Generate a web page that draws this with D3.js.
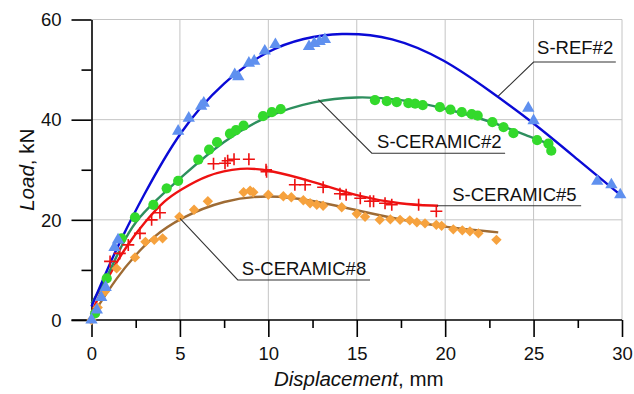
<!DOCTYPE html>
<html>
<head>
<meta charset="utf-8">
<script src="https://cdn.jsdelivr.net/npm/d3@7"></script>
<style>
  body { margin: 0; background: #fff; }
  svg { display: block; font-family: "Liberation Sans", Arial, sans-serif; }
  .grid line { stroke: #c4c4c4; stroke-width: 1; }
  .axis path, .axis line { stroke: #000; stroke-width: 1.6; }
  .axis text { font-size: 18.5px; fill: #111; }
  .leader { fill: none; stroke: #333; stroke-width: 1.1; }
  .label { font-size: 18.5px; fill: #111; }
  .title { font-size: 20.5px; fill: #111; }
</style>
</head>
<body>
<div id="chart"></div>
<script>
const width = 634;
const height = 394;
const margin = {top: 19.5, right: 12, bottom: 74, left: 91.5};

// measured points, [displacement mm, load kN]
const refPoints = [[0,0],[0.3,2],[0.55,4.5],[0.8,6.5],[1.3,14.5],[1.5,16],[4.9,37.7],[5.5,40.3],[6.2,42.7],[6.35,43.3],
  [8.1,49],[8.3,48.6],[8.9,51.3],[9.2,51.7],[9.8,53.7],[10.4,55],[12.3,54.6],[12.6,55.2],[12.9,55.6],[13.2,56],
  [24.7,42.3],[25,39.8],[28.6,27.7],[29.4,27],[29.9,25]];
const ceramic2Points = [[0.2,1.3],[0.86,8.3],[1.7,16.3],[2.46,20.5],[3.5,23],[4.25,26.3],[4.9,27.8],[6.04,32],[6.65,34],
  [7.1,35.5],[7.83,37.2],[8.17,37.9],[8.6,38.8],[9.7,40.7],[10.2,41.5],[10.7,42.1],[16.03,43.9],[16.7,43.7],[17.26,43.5],
  [17.92,43.3],[18.3,43.2],[18.73,42.9],[19.7,42.5],[20.3,42],[20.94,41.5],[21.5,41.1],[21.84,40.8],[22.67,39.5],
  [23.3,38.5],[23.86,37.3],[25.2,35.9],[25.84,35.2],[26,33.8]];
const ceramic5Points = [[1.05,11.7],[1.6,13.3],[2.08,15],[2.74,17.3],[3.4,20],[3.87,21.4],[6.9,31.2],[7.55,31.3],[7.7,31.8],
  [8.06,32.1],[8.9,32.1],[9.87,30],[9.9,29.6],[11.5,27],[12.08,27],[13.1,26.5],[14.05,25.2],[14.4,25],[15.2,24.3],
  [15.75,23.7],[15.95,23.7],[16.6,23.3],[16.98,23],[18.5,23],[19.5,21.7]];
const ceramic8Points = [[0,0],[0.35,2.5],[0.76,5.7],[1.42,10.3],[2.46,12.5],[3.05,15.6],[3.55,16],[4.02,16.3],[4.97,20.6],
  [5.8,22],[6.58,23.7],[8.6,25.5],[8.97,25.8],[9.15,25.5],[10,25],[10.85,24.7],[11.3,24.5],[11.98,23.9],[12.36,23.3],
  [12.74,23],[13.1,22.8],[14.15,22.5],[15,21.2],[15.47,20.6],[16.3,20],[16.9,20.1],[17.45,20],[18,19.9],[18.4,19.5],
  [18.86,19.3],[19.5,19],[19.8,18.8],[20.46,18.1],[20.97,17.9],[21.4,17.7],[21.88,17.3],[22.9,16]];

// fitted curves
const refFit = [[0,2.7],[1,11],[1.7,16.3],[2.8,24],[5,38],[7.5,47.8],[10,54],[12,56.3],[14,57.4],[17,56.7],[20,52],
  [22.5,45.8],[25,39.4],[27.5,32],[30,24.7]];
const ceramic2Fit = [[0,3.3],[0.9,8.6],[1.7,15],[2.5,19.8],[3.5,23.4],[5,28.3],[7.5,36],[10,41],[12.5,43.7],[15,44.7],
  [17.5,44.1],[20,42.3],[22.5,39.8],[25,36.3],[26,35]];
const ceramic5Fit = [[0,1.5],[1,9.2],[2.08,15.3],[3,19.5],[4.16,24],[5,25.9],[6.5,29],[8.5,30.5],[10,30],[12.5,27.7],
  [15,24.7],[17.5,23.1],[19.6,22.8]];
const ceramic8Fit = [[0,0.7],[1.5,8.9],[2.5,13],[3.4,16.4],[5,20.4],[7.5,24],[10,25],[12.5,23.9],[15,21.9],[17.5,20],
  [20,18.5],[23,17.5]];

// label text and leader polylines (data coords)
const labelNames = ["S-REF#2", "S-CERAMIC#2", "S-CERAMIC#5", "S-CERAMIC#8"];
const labelAt = [[25.2,53.1],[16.15,34.4],[20.4,23.7],[8.5,9]];
const leaders = [
  [[23,44.7],[25,51.5],[29.65,51.5]],
  [[12.83,44],[15.85,33.3],[23.39,33.3]],
  [[19.53,22.8],[27.69,22.8]],
  [[5,20.3],[8.27,8],[15.75,8]]
];

const xTicks = [0,5,10,15,20,25,30];
const xMinor = [2.5,7.5,12.5,17.5,22.5,27.5];
const yTicks = [0,20,40,60];
const yMinor = [10,30,50];

const x = d3.scaleLinear().domain([0, 30]).range([margin.left, width - margin.right]);
const y = d3.scaleLinear().domain([0, 60]).range([height - margin.bottom, margin.top]);

const svg = d3.select("#chart").append("svg")
  .attr("width", width)
  .attr("height", height);

// grid
const grid = svg.append("g").attr("class", "grid");
grid.selectAll(".gx").data(xTicks.slice(1)).join("line")
  .attr("x1", d => x(d)).attr("x2", d => x(d))
  .attr("y1", y(0)).attr("y2", y(60));
grid.selectAll(".gy").data(yTicks.slice(1)).join("line")
  .attr("class", "gy")
  .attr("x1", x(0)).attr("x2", x(30))
  .attr("y1", d => y(d)).attr("y2", d => y(d));

// axes
svg.append("g")
  .attr("class", "axis")
  .attr("transform", `translate(0,${y(0)})`)
  .call(d3.axisBottom(x).tickValues(xTicks).tickSize(17).tickSizeOuter(0).tickPadding(10))
  .call(g => g.select(".domain").attr("d", `M${x(0) - 20},0H${x(30)}`));
svg.append("g")
  .attr("class", "axis")
  .attr("transform", `translate(0,${y(0)})`)
  .call(d3.axisBottom(x).tickValues(xMinor).tickSize(8).tickFormat(""))
  .call(g => g.select(".domain").remove());

svg.append("g")
  .attr("class", "axis")
  .attr("transform", `translate(${x(0)},0)`)
  .call(d3.axisLeft(y).tickValues(yTicks).tickSize(20).tickSizeOuter(0).tickPadding(10))
  .call(g => g.selectAll("text").attr("dy", "0.34em"));
svg.append("g")
  .attr("class", "axis")
  .attr("transform", `translate(${x(0)},0)`)
  .call(d3.axisLeft(y).tickValues(yMinor).tickSize(10).tickFormat(""))
  .call(g => g.select(".domain").remove());

// axis titles
const xt = svg.append("text").attr("class", "title")
  .attr("x", (x(0) + x(30)) / 2 + 2).attr("y", 386)
  .attr("text-anchor", "middle");
xt.append("tspan").attr("font-style", "italic").text("Displacement");
xt.append("tspan").text(", mm");

const yt = svg.append("text").attr("class", "title")
  .attr("transform", `translate(34,${(y(0) + y(60)) / 2}) rotate(-90)`)
  .attr("text-anchor", "middle");
yt.append("tspan").attr("font-style", "italic").text("Load");
yt.append("tspan").text(", kN");

// fitted lines
const line = d3.line().x(d => x(d[0])).y(d => y(d[1])).curve(d3.curveBasis);
const fits = [
  {data: ceramic8Fit, color: "#9e6b34"},
  {data: ceramic5Fit, color: "#ee1111"},
  {data: ceramic2Fit, color: "#2e8f5e"},
  {data: refFit, color: "#0a0ad6"}
];
svg.append("g").selectAll("path").data(fits).join("path")
  .attr("fill", "none")
  .attr("stroke", d => d.color)
  .attr("stroke-width", 2.4)
  .attr("d", d => line(d.data));

// markers
const tri = d3.symbol().type(d3.symbolTriangle).size(66);
const dia = d3.symbol().type(d3.symbolSquare).size(54);
const circ = d3.symbol().type(d3.symbolCircle).size(82);

svg.append("g").selectAll("path").data(ceramic8Points).join("path")
  .attr("transform", d => `translate(${x(d[0])},${y(d[1])}) rotate(45)`)
  .attr("d", dia)
  .attr("fill", "#f6a23e");

svg.append("g").selectAll("path").data(ceramic5Points).join("path")
  .attr("transform", d => `translate(${x(d[0])},${y(d[1])})`)
  .attr("d", "M-6,0H6M0,-6V6")
  .attr("stroke", "#ee1111")
  .attr("stroke-width", 1.6)
  .attr("fill", "none");

svg.append("g").selectAll("path").data(ceramic2Points).join("path")
  .attr("transform", d => `translate(${x(d[0])},${y(d[1])})`)
  .attr("d", circ)
  .attr("fill", "#33d92c");

svg.append("g").selectAll("path").data(refPoints).join("path")
  .attr("transform", d => `translate(${x(d[0])},${y(d[1])})`)
  .attr("d", tri)
  .attr("fill", "#5f90ef");

// labels with leader lines
const lead = d3.line().x(d => x(d[0])).y(d => y(d[1]));
svg.append("g").selectAll("path").data(leaders).join("path")
  .attr("class", "leader")
  .attr("d", lead);

svg.append("g").selectAll("text").data(labelNames).join("text")
  .attr("class", "label")
  .attr("x", (d, i) => x(labelAt[i][0]))
  .attr("y", (d, i) => y(labelAt[i][1]))
  .text(d => d);
</script>
</body>
</html>
